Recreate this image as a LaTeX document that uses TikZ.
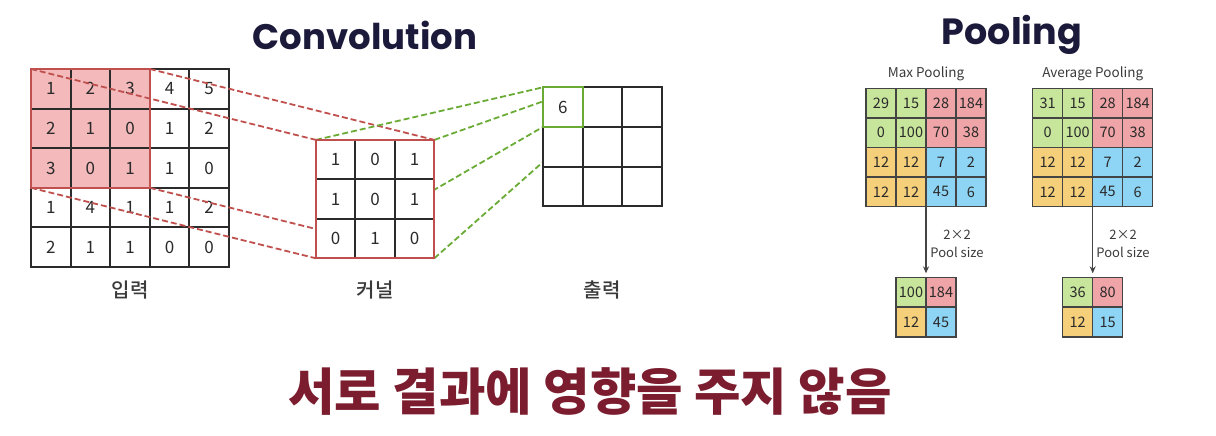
\documentclass[tikz,border=0pt]{standalone}
\usepackage{fontspec}
\setmainfont{Noto Sans CJK KR}
\newfontfamily\titlefont{Poppins}
\newfontfamily\notefont{Noto Sans CJK KR Black}
\newfontfamily\labelfont{Noto Sans CJK KR Medium}
\usetikzlibrary{arrows.meta}
\definecolor{cellpink}{HTML}{F3B9BB}
\definecolor{kernred}{HTML}{C0504D}
\definecolor{outgreen}{HTML}{6AAB35}
\definecolor{gridgray}{HTML}{2B2B2B}
\definecolor{numgray}{HTML}{2A2A2A}
\definecolor{labelgray}{HTML}{3A3A3A}
\definecolor{poolgray}{HTML}{444444}
\definecolor{poolgreen}{HTML}{C8E59C}
\definecolor{poolpink}{HTML}{EFA4A7}
\definecolor{poolyellow}{HTML}{F6CF7B}
\definecolor{poolblue}{HTML}{8ED4F5}
\definecolor{titlenavy}{HTML}{1B1A3B}
\definecolor{notered}{HTML}{7B1D2E}
\pgfdeclarelayer{base}
\pgfdeclarelayer{lines}
\pgfsetlayers{base,lines,main}

\begin{document}
\begin{tikzpicture}[x=1pt,y=-1pt,font=\fontsize{17}{19}\selectfont]
\tikzstyle{cell}=[draw=gridgray, line width=2pt, outer sep=0pt, minimum width=39.6pt, minimum height=39.6pt, inner sep=0pt, text=numgray]
\tikzstyle{pcell}=[draw=poolgray, line width=1.4pt, outer sep=0pt, minimum width=30pt, minimum height=29.7pt, inner sep=0pt, text=numgray, font=\fontsize{14.5}{16}\selectfont]
\tikzstyle{reddash}=[draw=kernred, line width=1.8pt, dash pattern=on 6pt off 3pt]
\tikzstyle{greendash}=[draw=outgreen, line width=1.8pt, dash pattern=on 6pt off 3pt]
\tikzstyle{caption}=[font=\labelfont\fontsize{20}{22}\selectfont, text=labelgray]
\tikzstyle{small}=[font=\fontsize{13.5}{18}\selectfont, text=labelgray, align=center]
\useasboundingbox (0,0) rectangle (1216,436);
% titles
\node[font=\titlefont\bfseries\fontsize{35.5}{38}\selectfont, text=titlenavy] (convtitle) at (365,35) {Convolution};
\node[font=\titlefont\bfseries\fontsize{36.5}{38}\selectfont, text=titlenavy] (pooltitle) at (1012,35) {Pooling};
% input
\begin{pgfonlayer}{base}
\foreach \row [count=\r] in {{1,2,3,4,5},{2,1,0,1,2},{3,0,1,1,0},{1,4,1,1,2},{2,1,1,0,0}}
  \foreach \v [count=\c] in \row {
    \ifnum\r<4 \ifnum\c<4 \def\bg{cellpink}\else\def\bg{white}\fi\else\def\bg{white}\fi
    \node[cell, fill=\bg] (in-\r-\c) at ({31+39.6*(\c-0.5)},{69+39.6*(\r-0.5)}) {\v};
  }
\draw[kernred, line width=2pt] (in-1-1.north west) rectangle (in-3-3.south east);
\end{pgfonlayer}
\node[caption] (inlabel) at (130,290) {입력};
% kernel
\foreach \row [count=\r] in {{1,0,1},{1,0,1},{0,1,0}}
  \foreach \v [count=\c] in \row
    \node[cell, fill=white] (ker-\r-\c) at ({316+39.4*(\c-0.5)},{140+39.4*(\r-0.5)}) {\v};
\draw[kernred, line width=2pt] (ker-1-1.north west) rectangle (ker-3-3.south east);
\node[caption] (kerlabel) at (375,290) {커널};
% output
\foreach \r in {1,2,3}
  \foreach \c in {1,2,3}
    \node[cell, fill=white] (out-\r-\c) at ({543+39.6*(\c-0.5)},{87.3+39.6*(\r-0.5)}) {};
\node[text=numgray] at (out-1-1) {6};
\draw[outgreen, line width=2pt] (out-1-1.north west) rectangle (out-1-1.south east);
\node[caption] (outlabel) at (602,290) {출력};
% connectors
\begin{pgfonlayer}{lines}
\draw[reddash] (in-1-1.north west) -- (ker-1-1.north west);
\draw[reddash] (in-1-3.north east) -- (ker-1-3.north east);
\draw[reddash] (in-3-1.south west) -- (ker-3-1.south west);
\draw[reddash] (in-3-3.south east) -- (ker-3-3.south east);
\draw[greendash] (ker-1-1.north west) -- (out-1-1.north west);
\draw[greendash] (ker-1-3.north east) -- (out-1-1.north east);
\draw[greendash] (ker-3-1.south west) -- (out-1-1.south west);
\draw[greendash] (ker-3-3.south east) -- (out-1-1.south east);
\end{pgfonlayer}
% pooling
\foreach \grid/\gx/\first/\name in {mx/866/29/Max Pooling, av/1032.7/31/Average Pooling} {
  \foreach \row [count=\r] in {{\first,15,28,184},{0,100,70,38},{12,12,7,2},{12,12,45,6}}
    \foreach \v [count=\c] in \row {
      \ifnum\r<3 \ifnum\c<3 \def\bg{poolgreen}\else\def\bg{poolpink}\fi
      \else \ifnum\c<3 \def\bg{poolyellow}\else\def\bg{poolblue}\fi\fi
      \node[pcell, fill=\bg] (\grid-\r-\c) at ({\gx+30*(\c-0.5)},{88.3+29.6*(\r-0.5)}) {\v};
    }
  \node[small] (\grid-title) at ({\gx+60},74) {\name};
}
\foreach \grid/\gx/\vals in {ms/896/{{100,184},{12,45}}, as/1062.7/{{36,80},{12,15}}} {
  \foreach \row [count=\r] in \vals
    \foreach \v [count=\c] in \row {
      \ifnum\r<2 \ifnum\c<2 \def\bg{poolgreen}\else\def\bg{poolpink}\fi
      \else \ifnum\c<2 \def\bg{poolyellow}\else\def\bg{poolblue}\fi\fi
      \node[pcell, fill=\bg] (\grid-\r-\c) at ({\gx+30*(\c-0.5)},{277.3+29.8*(\r-0.5)}) {\v};
    }
}
\draw[-{Stealth[length=7pt,width=6pt]}, poolgray, line width=1.2pt, shorten >=4pt] (mx-4-2.south east) -- (ms-1-1.north east);
\draw[-{Stealth[length=7pt,width=6pt]}, poolgray, line width=1.2pt, shorten >=4pt] (av-4-2.south east) -- (as-1-1.north east);
\node[small, font=\fontsize{13}{18}\selectfont] (mxsize) at (957,244) {2×2\\Pool size};
\node[small, font=\fontsize{13}{18}\selectfont] (avsize) at (1123,244) {2×2\\Pool size};
% note
\node[font=\notefont\fontsize{50.5}{54}\selectfont, text=notered] (note) at (590,392) {서로 결과에 영향을 주지 않음};
\end{tikzpicture}
\end{document}
